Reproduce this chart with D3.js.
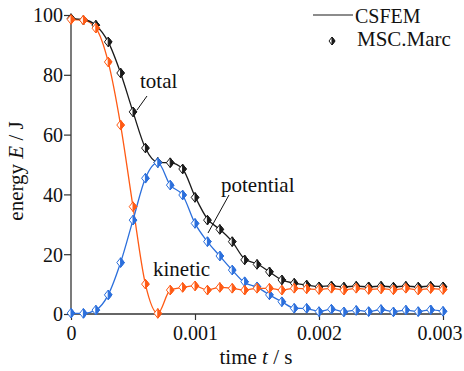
<!DOCTYPE html>
<html>
<head>
<meta charset="utf-8">
<script src="https://cdn.jsdelivr.net/npm/d3@7"></script>
<style>
  html, body { margin: 0; padding: 0; background: #fff; }
  svg { display: block; font-family: "Liberation Serif", "Times New Roman", serif; }
</style>
</head>
<body>
<svg id="chart" width="464" height="371"></svg>
<script>
// Sample times (s)
const time = [0, 0.0001, 0.0002, 0.0003, 0.0004, 0.0005, 0.0006, 0.0007, 0.0008, 0.0009,
  0.0010, 0.0011, 0.0012, 0.0013, 0.0014, 0.0015, 0.0016, 0.0017, 0.0018, 0.0019,
  0.0020, 0.0021, 0.0022, 0.0023, 0.0024, 0.0025, 0.0026, 0.0027, 0.0028, 0.0029, 0.0030];

// CSFEM energies (J)
const csfemTotal = [98.8, 98.5, 96.6, 91.0, 80.6, 67.6, 55.5, 50.7, 50.6, 48.5,
  39.3, 31.8, 28.3, 24.2, 18.4, 16.8, 14.1, 11.4, 10.3, 9.7,
  9.2, 9.4, 9.1, 9.3, 9.1, 9.3, 9.1, 9.3, 9.1, 9.3, 9.2];
const csfemKinetic = [98.5, 98.3, 95.6, 84.3, 63.2, 35.9, 10.0, 0.2, 8.0, 8.9,
  9.4, 8.0, 8.9, 8.6, 8.0, 8.6, 8.6, 8.0, 8.6, 8.4,
  8.2, 8.6, 8.1, 8.6, 8.2, 8.5, 8.1, 8.6, 8.1, 8.5, 8.2];
const csfemPotential = [0.3, 0.2, 1.3, 6.4, 17.2, 31.4, 45.4, 50.6, 43.1, 39.8,
  30.3, 24.2, 19.4, 14.7, 10.5, 9.0, 6.4, 4.1, 2.0, 1.8,
  0.9, 1.6, 0.8, 1.3, 0.8, 1.5, 0.8, 1.3, 0.8, 1.4, 0.9];

// MSC.Marc energies (J)
const marcTotal = [98.8, 98.3, 96.6, 91.0, 80.6, 67.6, 55.5, 50.7, 50.6, 48.5,
  39.0, 31.4, 28.3, 24.2, 18.1, 16.6, 14.1, 11.4, 10.3, 9.7,
  9.1, 9.4, 9.0, 9.3, 9.1, 9.3, 9.0, 9.3, 9.0, 9.3, 9.1];
const marcKinetic = [98.5, 98.3, 95.6, 84.3, 63.2, 35.9, 10.0, 0.2, 8.0, 8.9,
  9.4, 8.0, 8.9, 8.6, 8.0, 8.6, 8.6, 8.0, 8.6, 8.4,
  8.2, 8.6, 8.0, 8.6, 8.2, 8.4, 8.1, 8.6, 8.0, 8.5, 8.2];
const marcPotential = [0.3, 0.2, 1.3, 6.4, 17.2, 31.4, 45.4, 50.6, 43.1, 39.8,
  30.3, 24.2, 19.4, 14.7, 10.8, 9.1, 6.4, 4.1, 1.9, 1.9,
  0.8, 1.6, 0.7, 1.2, 0.8, 1.5, 0.7, 1.3, 0.8, 1.4, 0.9];

// Axis ticks
const xTickValues = [0, 0.001, 0.002, 0.003];
const xTickLabels = ["0", "0.001", "0.002", "0.003"];
const yTickValues = [0, 20, 40, 60, 80, 100];
const yTickLabels = ["0", "20", "40", "60", "80", "100"];

const colors = { total: "#1a1a1a", kinetic: "#ff5a14", potential: "#2b6fdc" };

const svg = d3.select("#chart");
const x = d3.scaleLinear().domain([0, 0.003]).range([71, 443]);
const y = d3.scaleLinear().domain([0, 100]).range([314, 15]);

// Axes: minor ticks then labelled major ticks
const xMinor = d3.range(0, 0.003 + 1e-9, 0.00025);
const yMinor = d3.range(0, 100 + 1e-9, 5);

const axisColor = "#333";
const tickFont = 20;
const labelFont = 21;

const gx = svg.append("g").attr("transform", "translate(0,314)");
gx.call(d3.axisBottom(x).tickValues(xMinor).tickSize(5).tickFormat(""));
gx.call(d3.axisBottom(x).tickValues(xTickValues).tickSize(6)
  .tickFormat((d, i) => xTickLabels[i]));
gx.select(".domain").attr("d", "M71,0H443");
gx.selectAll("line").attr("stroke", axisColor).attr("stroke-width", 1.2);
gx.selectAll(".domain").attr("stroke", axisColor).attr("stroke-width", 1.3);
gx.selectAll("text").attr("font-size", tickFont).attr("font-family", "Liberation Serif")
  .attr("fill", "#111").attr("y", 12).attr("dy", "0.71em");
// last label kept inside the frame
gx.selectAll(".tick text").filter(d => d === 0.003).attr("text-anchor", "end").attr("x", 19);

const gy = svg.append("g").attr("transform", "translate(71,0)");
gy.call(d3.axisLeft(y).tickValues(yMinor).tickSize(5).tickFormat(""));
gy.call(d3.axisLeft(y).tickValues(yTickValues).tickSize(7)
  .tickFormat((d, i) => yTickLabels[i]));
gy.select(".domain").attr("d", "M0,314V15");
gy.selectAll("line").attr("stroke", axisColor).attr("stroke-width", 1.2);
gy.selectAll(".domain").attr("stroke", axisColor).attr("stroke-width", 1.3);
gy.selectAll("text").attr("font-size", tickFont).attr("font-family", "Liberation Serif")
  .attr("fill", "#111").attr("x", -8).attr("dy", "0.34em");

// Axis titles
const xTitle = svg.append("text").attr("x", 256).attr("y", 364)
  .attr("text-anchor", "middle").attr("font-size", labelFont).attr("fill", "#111");
xTitle.append("tspan").text("time ");
xTitle.append("tspan").attr("font-style", "italic").text("t");
xTitle.append("tspan").text(" / s");

const yTitle = svg.append("text").attr("transform", "translate(23,171) rotate(-90)")
  .attr("text-anchor", "middle").attr("font-size", labelFont).attr("fill", "#111");
yTitle.append("tspan").text("energy ");
yTitle.append("tspan").attr("font-style", "italic").text("E");
yTitle.append("tspan").text(" / J");

// CSFEM curves
const line = d3.line().x((d, i) => x(time[i])).y(d => y(d)).curve(d3.curveMonotoneX);
const curves = [
  { key: "kinetic", vals: csfemKinetic },
  { key: "potential", vals: csfemPotential },
  { key: "total", vals: csfemTotal }
];
svg.append("g").selectAll("path").data(curves).join("path")
  .attr("d", d => line(d.vals))
  .attr("fill", "none")
  .attr("stroke", d => colors[d.key])
  .attr("stroke-width", 1.3);

// MSC.Marc markers: diamond, right half filled
function halfDiamond(g, color, w, h) {
  g.append("path").attr("d", `M0,${-h}L${w},0L0,${h}L${-w},0Z`)
    .attr("fill", "#fff").attr("stroke", color).attr("stroke-width", 1);
  g.append("path").attr("d", `M0,${-h}L${w},0L0,${h}Z`)
    .attr("fill", color).attr("stroke", color).attr("stroke-width", 1);
}
const markerSets = [
  { key: "total", vals: marcTotal },
  { key: "potential", vals: marcPotential },
  { key: "kinetic", vals: marcKinetic }
];
markerSets.forEach(s => {
  const g = svg.append("g");
  s.vals.forEach((v, i) => {
    const m = g.append("g").attr("transform", `translate(${x(time[i])},${y(v)})`);
    halfDiamond(m, colors[s.key], 3.8, 4.8);
  });
});

// Curve labels with leader lines
svg.append("text").attr("x", 140).attr("y", 88).attr("font-size", labelFont).attr("fill", "#111").text("total");
svg.append("line").attr("x1", 147).attr("y1", 96).attr("x2", 137).attr("y2", 110)
  .attr("stroke", "#111").attr("stroke-width", 1);
svg.append("text").attr("x", 221).attr("y", 192).attr("font-size", labelFont).attr("fill", "#111").text("potential");
svg.append("line").attr("x1", 229).attr("y1", 195).attr("x2", 208).attr("y2", 233)
  .attr("stroke", "#111").attr("stroke-width", 1);
svg.append("text").attr("x", 153).attr("y", 276).attr("font-size", labelFont).attr("fill", "#111").text("kinetic");

// Legend
const legend = svg.append("g");
legend.append("line").attr("x1", 313).attr("y1", 15).attr("x2", 353).attr("y2", 15)
  .attr("stroke", colors.total).attr("stroke-width", 1.2);
legend.append("text").attr("x", 355).attr("y", 23).attr("font-size", 20).attr("fill", "#111").text("CSFEM");
const lm = legend.append("g").attr("transform", "translate(332,41)");
halfDiamond(lm, colors.total, 3, 4);
legend.append("text").attr("x", 357).attr("y", 46).attr("font-size", 21).attr("fill", "#111").text("MSC.Marc");
</script>
</body>
</html>
